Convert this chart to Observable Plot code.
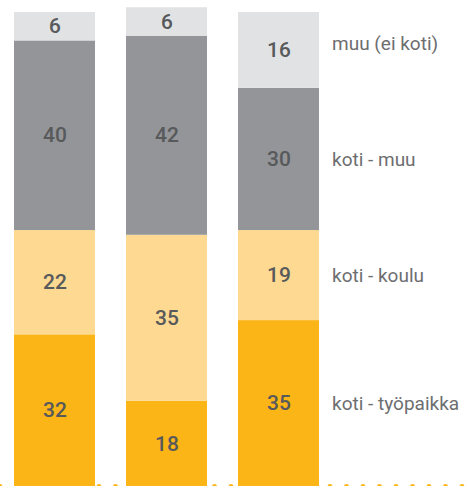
<!DOCTYPE html>
<html>
<head>
<meta charset="utf-8">
<script src="https://cdn.jsdelivr.net/npm/d3@7"></script>
<script src="https://cdn.jsdelivr.net/npm/@observablehq/plot@0.6"></script>
<style>
  html, body { margin: 0; padding: 0; background: #fff; }
  #chart svg { display: block; }
</style>
</head>
<body>
<div id="chart"></div>
<script>
const bars = ["A", "B", "C"];
const series = ["koti - työpaikka", "koti - koulu", "koti - muu", "muu (ei koti)"];
const tyopaikka = [32, 18, 35];
const koulu = [22, 35, 19];
const kotiMuu = [40, 42, 30];
const muuEiKoti = [6, 6, 16];
const colors = ["#FBB516", "#FDD992", "#939598", "#E1E2E4"];

const values = [tyopaikka, koulu, kotiMuu, muuEiKoti];
const data = [];
series.forEach((s, i) => bars.forEach((b, j) => data.push({bar: b, series: s, value: values[i][j]})));

const font = "Roboto, sans-serif";
const stackOpts = {x: "bar", y: "value", z: "series", order: series};
const lastBar = bars[bars.length - 1];
const topSeries = series[series.length - 1];

const chart = Plot.plot({
  width: 466,
  height: 486,
  marginLeft: 13,
  marginRight: 145,
  marginTop: 12,
  marginBottom: 0,
  style: {fontFamily: font, background: "#fff"},
  x: {domain: bars, paddingInner: 0.274, paddingOuter: 0, axis: null},
  y: {domain: [0, 100], axis: null},
  color: {domain: series, range: colors},
  marks: [
    Plot.ruleY([0], {stroke: "#FBB516", strokeWidth: 5, strokeDasharray: "0 16.5", strokeLinecap: "round", insetLeft: -13, insetRight: -145}),
    Plot.barY(data, Plot.stackY({...stackOpts, fill: "series"})),
    Plot.text(data, Plot.stackY({...stackOpts, text: "value", fill: "#58595B", fontSize: 21, fontWeight: 500})),
    Plot.text(data, Plot.stackY({...stackOpts, text: d => (d.bar === lastBar && d.series !== topSeries) ? d.series : null, textAnchor: "start", dx: 53, fill: "#6D6E70", fontSize: 19})),
    Plot.text(data, Plot.stackY({...stackOpts, text: d => (d.bar === lastBar && d.series === topSeries) ? d.series : null, textAnchor: "start", dx: 53, dy: -7, fill: "#6D6E70", fontSize: 19}))
  ]
});
document.getElementById("chart").appendChild(chart);
</script>
</body>
</html>
